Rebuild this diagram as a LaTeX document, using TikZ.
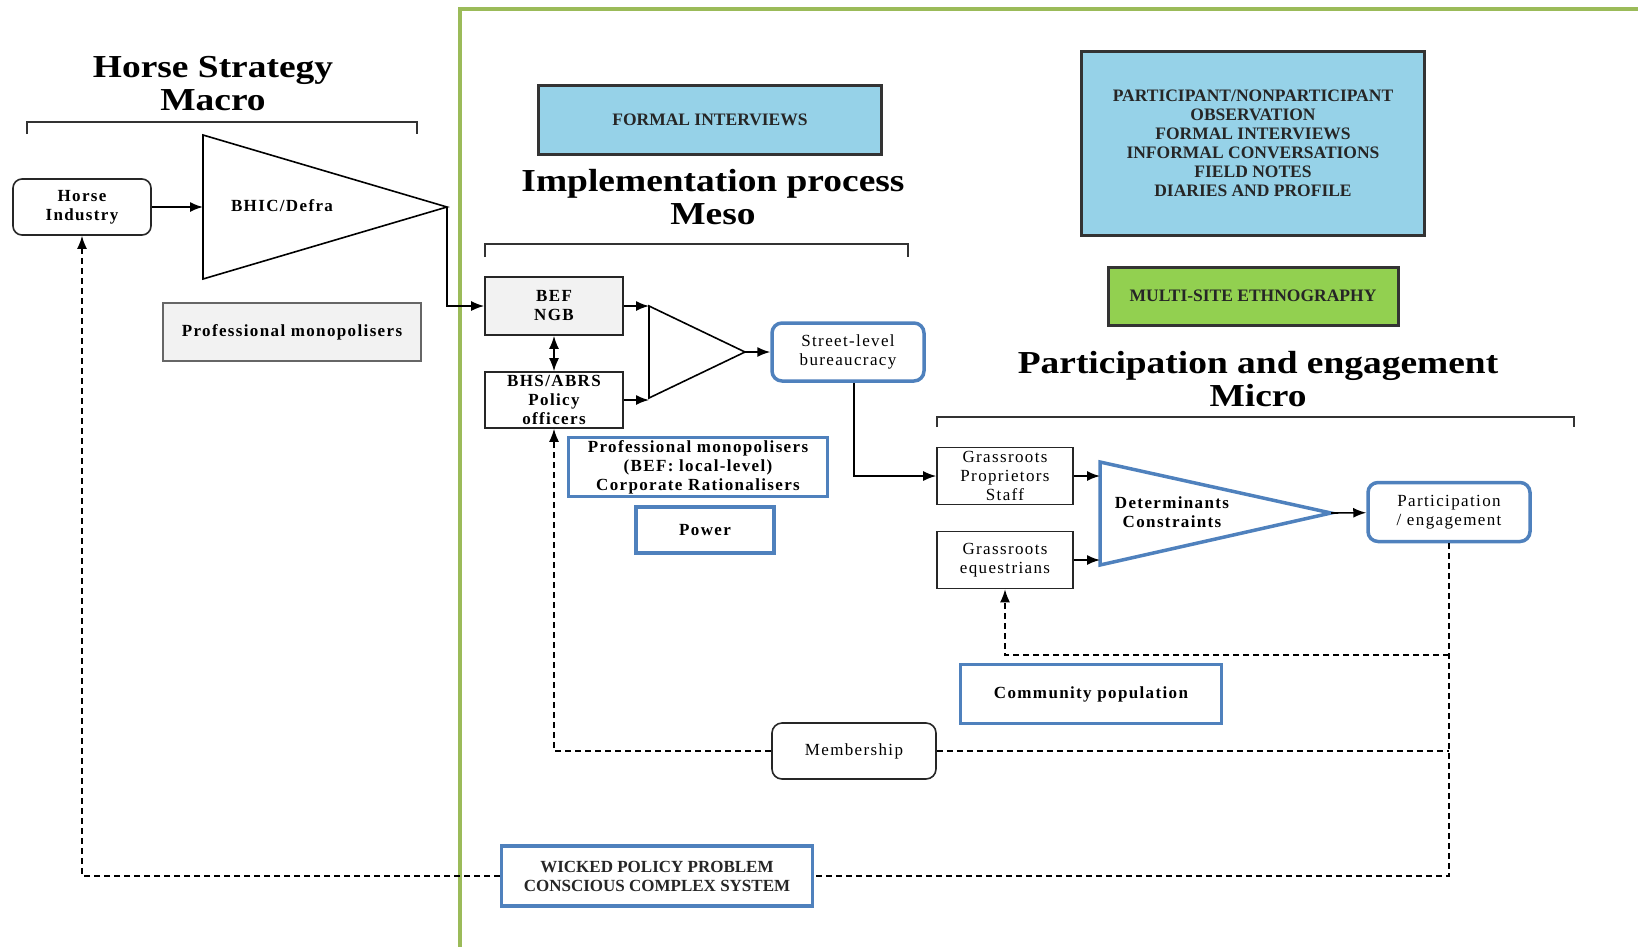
\documentclass[tikz,border=0pt]{standalone}
\usepackage{fontspec}
\setmainfont{Liberation Serif}
\newfontfamily\lblfont[LetterSpace=8]{Liberation Serif}
\newfontfamily\headfont[FakeStretch=1.17]{Liberation Serif}
\usetikzlibrary{arrows.meta}

\definecolor{frameGreen}{RGB}{155,187,89}
\definecolor{boxBlue}{RGB}{79,129,189}
\definecolor{skyFill}{RGB}{150,210,232}
\definecolor{limeFill}{RGB}{146,208,80}
\definecolor{paleGray}{RGB}{242,242,242}

\tikzset{
  leveltitle/.style={font=\headfont\fontsize{32}{33}\selectfont\bfseries, align=center},
  lbl/.style={font=\lblfont\fontsize{17}{19}\selectfont, align=center, inner sep=0pt},
  lblb/.style={lbl, font=\lblfont\fontsize{17}{19}\selectfont\bfseries},
  blackbox/.style={draw=black!85, line width=1.6pt},
  bluebox/.style={draw=boxBlue, line width=3.5pt, fill=white},
  methodbox/.style={draw=black!80, line width=3pt, align=center, inner sep=0pt,
    font=\fontsize{17.5}{19}\selectfont\bfseries, text=black!85},
  link/.style={line width=1.6pt, ->},
  dashlink/.style={line width=1.5pt, dash pattern=on 6pt off 4pt},
  bracket/.style={line width=1.5pt, draw=black!80}
}

\begin{document}
\begin{tikzpicture}[x=1pt, y=-1pt, >={Latex[length=13pt,width=10pt]}]
    \useasboundingbox (0,0) rectangle (1638,946);

    % frame round meso and micro
    \draw[frameGreen, line width=3.5pt] (460,950) -- (460,9) -- (1642,9);

    % headings
    \node[leveltitle] (macroT) at (213,84) {Horse Strategy\\Macro};
    \node[leveltitle] (mesoHead) at (713,197) {Implementation process\\Meso};
    \node[leveltitle] (microHead) at (1258,379) {Participation and engagement\\Micro};

    \draw[bracket] (27,134) -- (27,122) -- (417,122) -- (417,134);
    \draw[bracket] (485,257) -- (485,244) -- (908,244) -- (908,257);
    \draw[bracket] (937,427) -- (937,417) -- (1574,417) -- (1574,427);

    % methods
    \node[methodbox, fill=skyFill, minimum width=343, minimum height=69] (formal) at (710,120) {FORMAL INTERVIEWS};
    \node[methodbox, fill=skyFill, minimum width=343, minimum height=184] (observe) at (1253,143)
        {PARTICIPANT/NONPARTICIPANT\\OBSERVATION\\FORMAL INTERVIEWS\\INFORMAL CONVERSATIONS\\FIELD NOTES\\DIARIES AND PROFILE};
    \node[methodbox, fill=limeFill, minimum width=290, minimum height=58] (multi) at (1253,296) {MULTI-SITE ETHNOGRAPHY};

    % macro
    \node[lblb, blackbox, rounded corners=9pt, minimum width=138, minimum height=56] (horse) at (82,207) {Horse\\Industry};
    \coordinate (bhicA) at (203,135);
    \coordinate (bhicB) at (203,279);
    \coordinate (bhicT) at (447,207);
    \draw[line width=1.6pt] (bhicA) -- (bhicT) -- (bhicB) -- cycle;
    \node[lblb] (bhic) at (282,206) {BHIC/Defra};
    \node[lblb, draw=black!60, line width=1.6pt, fill=paleGray, minimum width=258, minimum height=58] (profL) at (292,332) {Professional monopolisers};

    % meso
    \node[lblb, blackbox, fill=paleGray, minimum width=138, minimum height=58] (bef) at (554,306) {BEF\\NGB};
    \node[lblb, blackbox, fill=white, minimum width=138, minimum height=56] (bhs) at (554,400) {BHS/ABRS\\Policy\\officers};
    \coordinate (mesoA) at (649,306);
    \coordinate (mesoB) at (649,398);
    \coordinate (mesoT) at (745,352);
    \draw[line width=1.6pt] (mesoA) -- (mesoT) -- (mesoB) -- cycle;
    \node[lbl, bluebox, rounded corners=10pt, minimum width=152, minimum height=58] (street) at (848,352) {Street-level\\bureaucracy};
    \node[lblb, bluebox, minimum width=259, minimum height=59] (profM) at (698,467) {Professional monopolisers\\(BEF: local-level)\\Corporate Rationalisers};
    \node[lblb, bluebox, minimum width=138, minimum height=46] (power) at (705,530) {Power};
    \node[lbl, blackbox, fill=white, rounded corners=10pt, minimum width=164, minimum height=56] (member) at (854,751) {Membership};

    % micro
    \node[lbl, blackbox, minimum width=136, minimum height=57] (grassP) at (1005,476) {Grassroots\\Proprietors\\Staff};
    \node[lbl, blackbox, minimum width=136, minimum height=57] (grassE) at (1005,560) {Grassroots\\equestrians};
    \coordinate (microA) at (1100,462);
    \coordinate (microB) at (1100,565);
    \coordinate (microT) at (1331,513);
    \draw[boxBlue, line width=3.5pt, line join=miter] (microA) -- (microT) -- (microB) -- cycle;
    \node[lblb] (determ) at (1172,512) {Determinants\\Constraints};
    \node[lbl, bluebox, rounded corners=10pt, minimum width=162, minimum height=59] (partic) at (1449,512) {Participation\\/ engagement};
    \node[lblb, bluebox, minimum width=261, minimum height=59] (community) at (1091,694) {Community population};
    \node[methodbox, bluebox, font=\fontsize{17}{19}\selectfont\bfseries, minimum width=311, minimum height=60] (wicked) at (657,876)
        {WICKED POLICY PROBLEM\\CONSCIOUS COMPLEX SYSTEM};

    % flow
    \draw[link] (horse) -- (horse -| bhicA);
    \draw[link] (bhicT) |- (bef);
    \draw[link, <->] (bef) -- (bhs);
    \draw[link] (bef) -- (bef -| mesoA);
    \draw[link] (bhs) -- (bhs -| mesoB);
    \draw[link] (mesoT) -- (street);
    \draw[link] ([xshift=6pt]street.south) |- (grassP);
    \draw[link] (grassP) -- (grassP -| microA);
    \draw[link] (grassE) -- (grassE -| microB);
    \draw[link] (microT) -- (partic);

    % feedback
    \coordinate (commJ) at (1449,655);
    \draw[dashlink] (partic) |- (wicked);
    \draw[dashlink, ->] (wicked) -| (horse);
    \draw[dashlink, ->] (commJ) -| (grassE);
    \draw[dashlink] (member) -- (member -| partic);
    \draw[dashlink, ->] (member) -| (bhs);

\end{tikzpicture}
\end{document}
